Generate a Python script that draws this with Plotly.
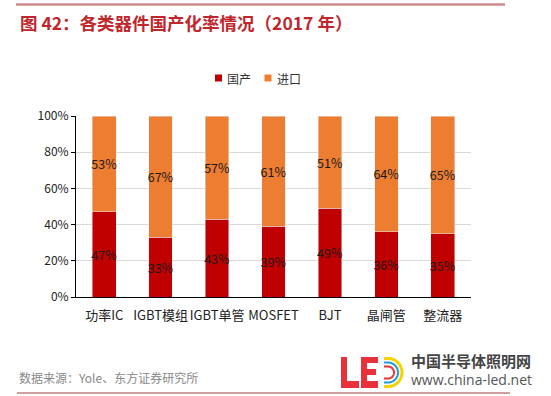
import plotly.graph_objects as go
import math

categories = ["功率IC", "IGBT模组", "IGBT单管", "MOSFET", "BJT", "晶闸管", "整流器"]
domestic = [47, 33, 43, 39, 49, 36, 35]
imported = [53, 67, 57, 61, 51, 64, 65]
series_names = ["国产", "进口"]
series_colors = ["#C00000", "#ED7D31"]
tick_vals = [0, 20, 40, 60, 80, 100]
tick_text = ["0%", "20%", "40%", "60%", "80%", "100%"]

W, H = 551, 396
L, R, T, B = 76, 471, 116, 297

def px(x):
    return (x - L) / (R - L)

def py(y):
    return (B - y) / (B - T)

fig = go.Figure()
for name, vals, col in zip(series_names, [domestic, imported], series_colors):
    fig.add_bar(x=categories, y=vals, name=name, marker_color=col,
                text=[f"{v}%" for v in vals], textposition="inside", textangle=0,
                insidetextanchor="middle", constraintext="none",
                textfont=dict(color="#1a1a1a", size=12.5), width=0.42)

font_cjk = "Noto Sans CJK SC"
fig.update_layout(
    barmode="stack",
    width=W, height=H,
    margin=dict(l=L, r=W - R, t=T, b=H - B, pad=0, autoexpand=False),
    plot_bgcolor="white", paper_bgcolor="white",
    font=dict(family=font_cjk, size=12, color="#222"),
    showlegend=False,
    uniformtext=dict(mode=False),
    xaxis=dict(showline=True, linecolor="black", linewidth=1, ticks="",
               tickangle=0, automargin=False, ticklabelstandoff=6,
               tickfont=dict(size=13, color="#222"), fixedrange=True),
    yaxis=dict(range=[0, 100], tickvals=tick_vals, ticktext=tick_text,
               showline=True, linecolor="black", linewidth=1, automargin=False,
               ticks="outside", ticklen=4, tickcolor="black",
               showgrid=True, gridcolor="#d9d9d9", gridwidth=1,
               tickfont=dict(size=12, color="#222"), zeroline=False),
)

# legend (custom, small squares)
for i, (name, col) in enumerate(zip(series_names, series_colors)):
    x0 = 215 + i * 49.5
    fig.add_shape(type="rect", xref="paper", yref="paper", x0=px(x0), x1=px(x0 + 7),
                  y0=py(81.5), y1=py(74.5), fillcolor=col, line_width=0)
    fig.add_annotation(text=name, xref="paper", yref="paper", x=px(x0 + 10), y=py(78),
                       xanchor="left", yanchor="middle", showarrow=False,
                       font=dict(family=font_cjk, size=12, color="#333"))

# title
fig.add_annotation(text="<b>图 42：各类器件国产化率情况（2017 年）</b>", xref="paper", yref="paper",
                   x=px(18), y=py(22), xanchor="left", yanchor="middle", showarrow=False,
                   font=dict(family=font_cjk, size=17.5, color="#C0272D"))
# top line
fig.add_shape(type="line", xref="paper", yref="paper", x0=px(16), x1=px(505),
              y0=py(4.5), y1=py(4.5), line=dict(color="#CC8A8A", width=2.5))
# bottom line
fig.add_shape(type="line", xref="paper", yref="paper", x0=px(17), x1=px(510),
              y0=py(393), y1=py(393), line=dict(color="#C08080", width=1.5))
# source
fig.add_annotation(text="数据来源：Yole、东方证券研究所", xref="paper", yref="paper",
                   x=px(17), y=py(377), xanchor="left", yanchor="middle", showarrow=False,
                   font=dict(family=font_cjk, size=12, color="#888"))

# logo: L
red = "#E8313A"
def rect(x0, y0, x1, y1, color):
    fig.add_shape(type="rect", xref="paper", yref="paper", x0=px(x0), x1=px(x1),
                  y0=py(y1), y1=py(y0), fillcolor=color, line_width=0)
rect(341, 357, 347, 388, red)
rect(341, 381, 359, 388, red)
# E
rect(361, 357, 367, 388, red)
rect(361, 357, 378, 363, red)
rect(361, 369, 376, 375, red)
rect(361, 381, 378, 388, red)
# D arcs
def arc(cx, cy, r, color, w):
    pts = []
    for i in range(0, 31):
        a = -math.pi / 2 + math.pi * i / 30
        pts.append((px(cx + r * math.cos(a)), py(cy + r * math.sin(a))))
    p = f"M {px(cx - 4)},{py(cy - r)} L " + " L ".join(f"{x},{y}" for x, y in pts) + f" L {px(cx - 4)},{py(cy + r)}"
    fig.add_shape(type="path", xref="paper", yref="paper", path=p,
                  line=dict(color=color, width=w))
arc(388, 372.5, 14, "#F5D300", 3)
arc(388, 372.5, 10, "#1E9BD7", 2)
arc(388, 372.5, 6, red, 2)

fig.add_annotation(text="<b>中国半导体照明网</b>", xref="paper", yref="paper",
                   x=px(409), y=py(360), xanchor="left", yanchor="middle", showarrow=False,
                   font=dict(family=font_cjk, size=15, color="#444"), height=18, valign="middle")
fig.add_annotation(text="www.china-led.net", xref="paper", yref="paper",
                   x=px(409), y=py(379.5), xanchor="left", yanchor="middle", showarrow=False,
                   font=dict(family="Open Sans", size=14, color="#555"), height=17, valign="middle")

fig.write_html("out.html", config={"displayModeBar": False},
               post_script="document.body.style.margin='0';document.body.style.padding='0';")
